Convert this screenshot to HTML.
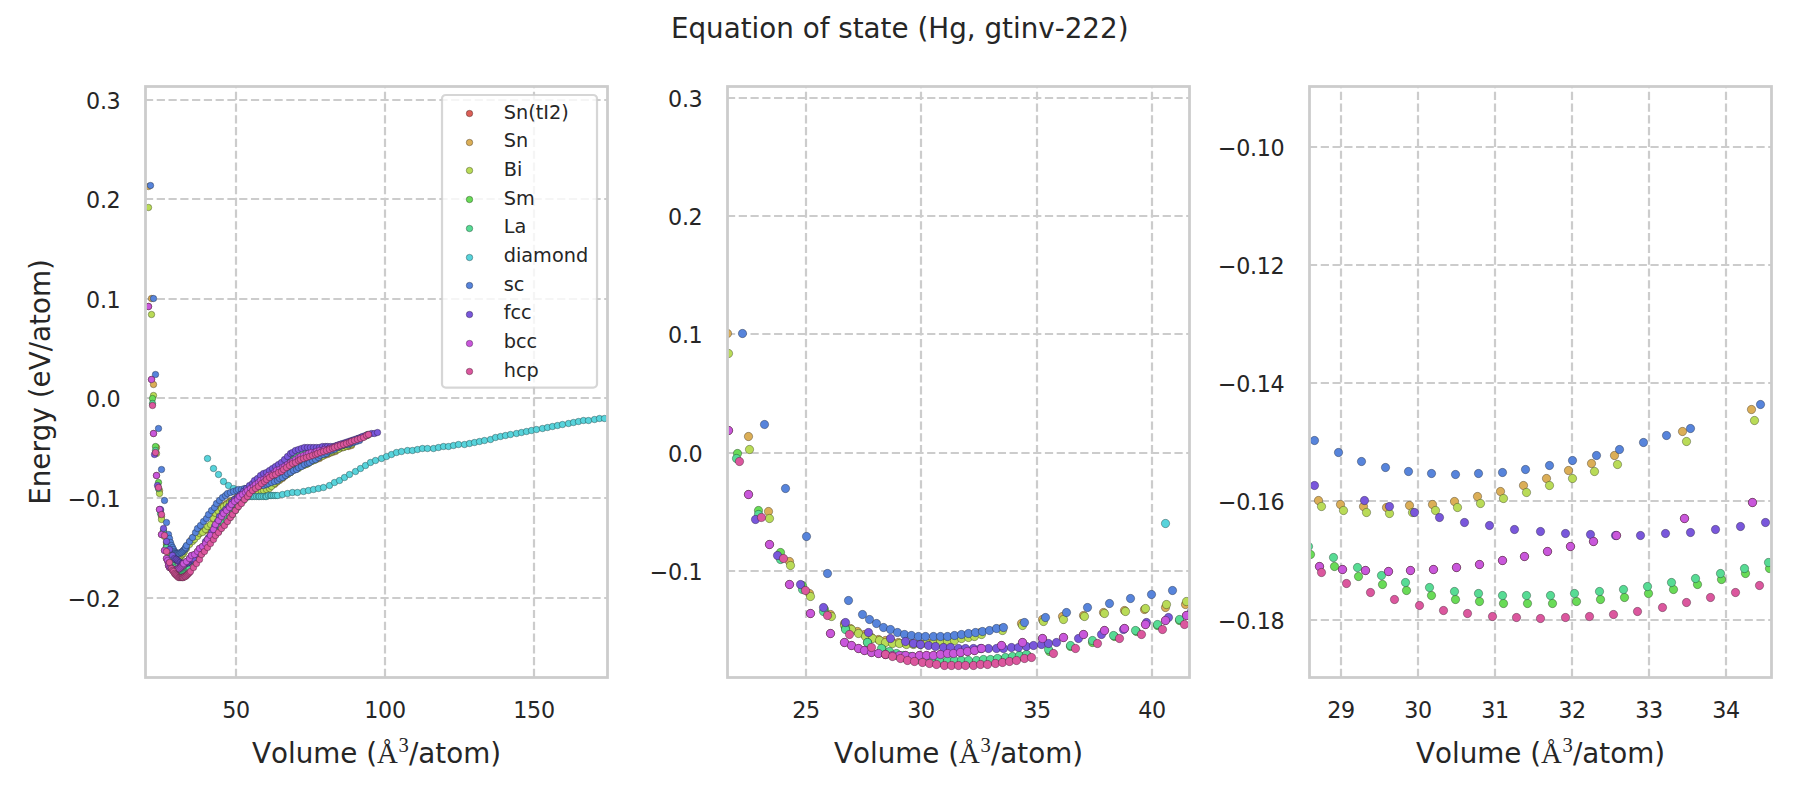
<!DOCTYPE html>
<html lang="en"><head><meta charset="utf-8"><title>Equation of state (Hg, gtinv-222)</title>
<style>html,body{margin:0;padding:0;background:#fff}svg{display:block}text{font-family:"DejaVu Sans","Liberation Sans",sans-serif;fill:#262626;font-kerning:none}.tk{font-size:22.22px;letter-spacing:-0.35px}.lb{font-size:27.78px}.lg{font-size:19.30px}.m{font-family:"Liberation Serif","DejaVu Serif",serif}.g{stroke:#ccc;stroke-width:2.22;stroke-dasharray:8.22 3.556;fill:none}.sp{stroke:#ccc;stroke-width:2.78;fill:none;stroke-linejoin:miter}.pt circle{stroke:#000;stroke-opacity:0.55;stroke-width:0.56}</style></head><body>
<svg width="1800" height="800" viewBox="0 0 1800 800">
<rect width="1800" height="800" fill="#fff"/>
<defs>
<clipPath id="c0"><rect x="145.5" y="86.5" width="462.0" height="591.0"/></clipPath>
<clipPath id="c1"><rect x="727.5" y="86.5" width="462.0" height="591.0"/></clipPath>
<clipPath id="c2"><rect x="1309.5" y="86.5" width="462.0" height="591.0"/></clipPath>
</defs>
<g id="ax1">
<g class="g" clip-path="url(#c0)">
<path d="M236 677.0 V86.5"/>
<path d="M385 677.0 V86.5"/>
<path d="M534 677.0 V86.5"/>
<path d="M144.95 100 H607.5"/>
<path d="M144.95 199 H607.5"/>
<path d="M144.95 299 H607.5"/>
<path d="M144.95 398 H607.5"/>
<path d="M144.95 498 H607.5"/>
<path d="M144.95 598 H607.5"/>
</g>
<g class="pt" clip-path="url(#c0)">
<g fill="#db5f57"><circle cx="148.5" cy="306.5" r="3.25"/><circle cx="151.5" cy="379.5" r="3.25"/><circle cx="153.5" cy="433.5" r="3.25"/><circle cx="156.5" cy="475.5" r="3.25"/><circle cx="159.5" cy="509.5" r="3.25"/><circle cx="161.5" cy="534.5" r="3.25"/><circle cx="164.5" cy="550.5" r="3.25"/><circle cx="166.5" cy="558.5" r="3.25"/><circle cx="167.5" cy="560.5" r="3.25"/><circle cx="168.5" cy="563.5" r="3.25"/><circle cx="168.5" cy="565.5" r="3.25"/><circle cx="169.5" cy="567.5" r="3.25"/><circle cx="170.5" cy="567.5" r="3.25"/><circle cx="171.5" cy="568.5" r="3.25"/><circle cx="172.5" cy="569.5" r="3.25"/><circle cx="173.5" cy="569.5" r="3.25"/><circle cx="174.5" cy="569.5" r="3.25"/><circle cx="175.5" cy="569.5" r="3.25"/><circle cx="176.5" cy="569.5" r="3.25"/><circle cx="176.5" cy="569.5" r="3.25"/><circle cx="177.5" cy="569.5" r="3.25"/><circle cx="178.5" cy="568.5" r="3.25"/><circle cx="179.5" cy="568.5" r="3.25"/><circle cx="180.5" cy="567.5" r="3.25"/><circle cx="181.5" cy="566.5" r="3.25"/><circle cx="182.5" cy="565.5" r="3.25"/><circle cx="183.5" cy="564.5" r="3.25"/><circle cx="183.5" cy="563.5" r="3.25"/><circle cx="186.5" cy="561.5" r="3.25"/><circle cx="189.5" cy="558.5" r="3.25"/><circle cx="191.5" cy="555.5" r="3.25"/><circle cx="194.5" cy="554.5" r="3.25"/><circle cx="197.5" cy="551.5" r="3.25"/><circle cx="199.5" cy="548.5" r="3.25"/><circle cx="202.5" cy="546.5" r="3.25"/><circle cx="205.5" cy="543.5" r="3.25"/><circle cx="207.5" cy="539.5" r="3.25"/><circle cx="210.5" cy="535.5" r="3.25"/><circle cx="213.5" cy="529.5" r="3.25"/><circle cx="215.5" cy="524.5" r="3.25"/><circle cx="218.5" cy="520.5" r="3.25"/><circle cx="221.5" cy="516.5" r="3.25"/><circle cx="223.5" cy="513.5" r="3.25"/><circle cx="226.5" cy="510.5" r="3.25"/><circle cx="229.5" cy="507.5" r="3.25"/><circle cx="231.5" cy="504.5" r="3.25"/><circle cx="234.5" cy="501.5" r="3.25"/><circle cx="237.5" cy="499.5" r="3.25"/><circle cx="239.5" cy="496.5" r="3.25"/><circle cx="242.5" cy="494.5" r="3.25"/><circle cx="245.5" cy="492.5" r="3.25"/><circle cx="247.5" cy="490.5" r="3.25"/><circle cx="250.5" cy="488.5" r="3.25"/><circle cx="253.5" cy="486.5" r="3.25"/><circle cx="255.5" cy="484.5" r="3.25"/><circle cx="258.5" cy="482.5" r="3.25"/><circle cx="260.5" cy="480.5" r="3.25"/><circle cx="263.5" cy="479.5" r="3.25"/><circle cx="266.5" cy="477.5" r="3.25"/><circle cx="268.5" cy="475.5" r="3.25"/><circle cx="271.5" cy="474.5" r="3.25"/><circle cx="274.5" cy="472.5" r="3.25"/><circle cx="276.5" cy="470.5" r="3.25"/><circle cx="279.5" cy="469.5" r="3.25"/><circle cx="282.5" cy="467.5" r="3.25"/><circle cx="284.5" cy="466.5" r="3.25"/><circle cx="287.5" cy="464.5" r="3.25"/><circle cx="290.5" cy="462.5" r="3.25"/><circle cx="292.5" cy="461.5" r="3.25"/><circle cx="295.5" cy="459.5" r="3.25"/><circle cx="298.5" cy="457.5" r="3.25"/><circle cx="300.5" cy="456.5" r="3.25"/><circle cx="303.5" cy="455.5" r="3.25"/><circle cx="306.5" cy="454.5" r="3.25"/><circle cx="308.5" cy="453.5" r="3.25"/><circle cx="311.5" cy="452.5" r="3.25"/><circle cx="314.5" cy="452.5" r="3.25"/><circle cx="316.5" cy="451.5" r="3.25"/><circle cx="319.5" cy="450.5" r="3.25"/><circle cx="322.5" cy="450.5" r="3.25"/><circle cx="324.5" cy="449.5" r="3.25"/><circle cx="327.5" cy="449.5" r="3.25"/><circle cx="329.5" cy="448.5" r="3.25"/><circle cx="332.5" cy="447.5" r="3.25"/><circle cx="335.5" cy="446.5" r="3.25"/><circle cx="337.5" cy="445.5" r="3.25"/><circle cx="340.5" cy="444.5" r="3.25"/><circle cx="343.5" cy="444.5" r="3.25"/><circle cx="345.5" cy="443.5" r="3.25"/><circle cx="348.5" cy="442.5" r="3.25"/><circle cx="351.5" cy="441.5" r="3.25"/></g>
<g fill="#dbae57"><circle cx="148.5" cy="186.5" r="3.25"/><circle cx="151.5" cy="298.5" r="3.25"/><circle cx="153.5" cy="384.5" r="3.25"/><circle cx="156.5" cy="447.5" r="3.25"/><circle cx="159.5" cy="490.5" r="3.25"/><circle cx="161.5" cy="516.5" r="3.25"/><circle cx="164.5" cy="534.5" r="3.25"/><circle cx="166.5" cy="542.5" r="3.25"/><circle cx="167.5" cy="546.5" r="3.25"/><circle cx="168.5" cy="549.5" r="3.25"/><circle cx="168.5" cy="552.5" r="3.25"/><circle cx="169.5" cy="554.5" r="3.25"/><circle cx="170.5" cy="555.5" r="3.25"/><circle cx="171.5" cy="557.5" r="3.25"/><circle cx="172.5" cy="558.5" r="3.25"/><circle cx="173.5" cy="558.5" r="3.25"/><circle cx="174.5" cy="559.5" r="3.25"/><circle cx="175.5" cy="559.5" r="3.25"/><circle cx="175.5" cy="558.5" r="3.25"/><circle cx="176.5" cy="558.5" r="3.25"/><circle cx="177.5" cy="558.5" r="3.25"/><circle cx="178.5" cy="557.5" r="3.25"/><circle cx="179.5" cy="556.5" r="3.25"/><circle cx="180.5" cy="555.5" r="3.25"/><circle cx="181.5" cy="554.5" r="3.25"/><circle cx="182.5" cy="552.5" r="3.25"/><circle cx="183.5" cy="551.5" r="3.25"/><circle cx="183.5" cy="550.5" r="3.25"/><circle cx="186.5" cy="546.5" r="3.25"/><circle cx="189.5" cy="542.5" r="3.25"/><circle cx="191.5" cy="539.5" r="3.25"/><circle cx="194.5" cy="536.5" r="3.25"/><circle cx="197.5" cy="535.5" r="3.25"/><circle cx="199.5" cy="533.5" r="3.25"/><circle cx="202.5" cy="531.5" r="3.25"/><circle cx="205.5" cy="530.5" r="3.25"/><circle cx="207.5" cy="529.5" r="3.25"/><circle cx="210.5" cy="526.5" r="3.25"/><circle cx="213.5" cy="521.5" r="3.25"/><circle cx="215.5" cy="514.5" r="3.25"/><circle cx="218.5" cy="510.5" r="3.25"/><circle cx="221.5" cy="507.5" r="3.25"/><circle cx="223.5" cy="505.5" r="3.25"/><circle cx="226.5" cy="503.5" r="3.25"/><circle cx="229.5" cy="501.5" r="3.25"/><circle cx="231.5" cy="500.5" r="3.25"/><circle cx="234.5" cy="499.5" r="3.25"/><circle cx="236.5" cy="497.5" r="3.25"/><circle cx="239.5" cy="496.5" r="3.25"/><circle cx="242.5" cy="495.5" r="3.25"/><circle cx="244.5" cy="495.5" r="3.25"/><circle cx="247.5" cy="494.5" r="3.25"/><circle cx="250.5" cy="493.5" r="3.25"/><circle cx="252.5" cy="493.5" r="3.25"/><circle cx="255.5" cy="492.5" r="3.25"/><circle cx="258.5" cy="491.5" r="3.25"/><circle cx="260.5" cy="490.5" r="3.25"/><circle cx="263.5" cy="489.5" r="3.25"/><circle cx="266.5" cy="488.5" r="3.25"/><circle cx="268.5" cy="487.5" r="3.25"/><circle cx="271.5" cy="485.5" r="3.25"/><circle cx="274.5" cy="484.5" r="3.25"/><circle cx="276.5" cy="482.5" r="3.25"/><circle cx="279.5" cy="480.5" r="3.25"/><circle cx="282.5" cy="478.5" r="3.25"/><circle cx="284.5" cy="476.5" r="3.25"/><circle cx="287.5" cy="474.5" r="3.25"/><circle cx="290.5" cy="472.5" r="3.25"/><circle cx="292.5" cy="470.5" r="3.25"/><circle cx="295.5" cy="469.5" r="3.25"/><circle cx="297.5" cy="467.5" r="3.25"/><circle cx="300.5" cy="466.5" r="3.25"/><circle cx="303.5" cy="465.5" r="3.25"/><circle cx="305.5" cy="464.5" r="3.25"/><circle cx="308.5" cy="462.5" r="3.25"/><circle cx="311.5" cy="461.5" r="3.25"/><circle cx="313.5" cy="460.5" r="3.25"/><circle cx="316.5" cy="459.5" r="3.25"/><circle cx="319.5" cy="458.5" r="3.25"/><circle cx="321.5" cy="456.5" r="3.25"/><circle cx="324.5" cy="455.5" r="3.25"/><circle cx="327.5" cy="454.5" r="3.25"/><circle cx="329.5" cy="453.5" r="3.25"/><circle cx="332.5" cy="452.5" r="3.25"/><circle cx="335.5" cy="451.5" r="3.25"/><circle cx="337.5" cy="449.5" r="3.25"/><circle cx="340.5" cy="448.5" r="3.25"/><circle cx="343.5" cy="447.5" r="3.25"/><circle cx="345.5" cy="446.5" r="3.25"/><circle cx="348.5" cy="446.5" r="3.25"/><circle cx="351.5" cy="445.5" r="3.25"/></g>
<g fill="#b9db57"><circle cx="148.5" cy="207.5" r="3.25"/><circle cx="151.5" cy="314.5" r="3.25"/><circle cx="153.5" cy="395.5" r="3.25"/><circle cx="156.5" cy="453.5" r="3.25"/><circle cx="159.5" cy="493.5" r="3.25"/><circle cx="161.5" cy="519.5" r="3.25"/><circle cx="164.5" cy="536.5" r="3.25"/><circle cx="166.5" cy="544.5" r="3.25"/><circle cx="167.5" cy="547.5" r="3.25"/><circle cx="168.5" cy="550.5" r="3.25"/><circle cx="169.5" cy="553.5" r="3.25"/><circle cx="169.5" cy="555.5" r="3.25"/><circle cx="170.5" cy="556.5" r="3.25"/><circle cx="171.5" cy="558.5" r="3.25"/><circle cx="172.5" cy="559.5" r="3.25"/><circle cx="173.5" cy="559.5" r="3.25"/><circle cx="174.5" cy="559.5" r="3.25"/><circle cx="175.5" cy="560.5" r="3.25"/><circle cx="176.5" cy="559.5" r="3.25"/><circle cx="176.5" cy="559.5" r="3.25"/><circle cx="177.5" cy="559.5" r="3.25"/><circle cx="178.5" cy="558.5" r="3.25"/><circle cx="179.5" cy="557.5" r="3.25"/><circle cx="180.5" cy="556.5" r="3.25"/><circle cx="181.5" cy="555.5" r="3.25"/><circle cx="182.5" cy="554.5" r="3.25"/><circle cx="183.5" cy="553.5" r="3.25"/><circle cx="184.5" cy="551.5" r="3.25"/><circle cx="186.5" cy="548.5" r="3.25"/><circle cx="189.5" cy="544.5" r="3.25"/><circle cx="192.5" cy="541.5" r="3.25"/><circle cx="194.5" cy="539.5" r="3.25"/><circle cx="197.5" cy="536.5" r="3.25"/><circle cx="199.5" cy="533.5" r="3.25"/><circle cx="202.5" cy="532.5" r="3.25"/><circle cx="205.5" cy="529.5" r="3.25"/><circle cx="207.5" cy="526.5" r="3.25"/><circle cx="210.5" cy="524.5" r="3.25"/><circle cx="213.5" cy="518.5" r="3.25"/><circle cx="215.5" cy="513.5" r="3.25"/><circle cx="218.5" cy="511.5" r="3.25"/><circle cx="221.5" cy="508.5" r="3.25"/><circle cx="223.5" cy="506.5" r="3.25"/><circle cx="226.5" cy="504.5" r="3.25"/><circle cx="229.5" cy="502.5" r="3.25"/><circle cx="231.5" cy="501.5" r="3.25"/><circle cx="234.5" cy="499.5" r="3.25"/><circle cx="237.5" cy="498.5" r="3.25"/><circle cx="239.5" cy="498.5" r="3.25"/><circle cx="242.5" cy="497.5" r="3.25"/><circle cx="245.5" cy="496.5" r="3.25"/><circle cx="247.5" cy="495.5" r="3.25"/><circle cx="250.5" cy="495.5" r="3.25"/><circle cx="253.5" cy="494.5" r="3.25"/><circle cx="255.5" cy="493.5" r="3.25"/><circle cx="258.5" cy="492.5" r="3.25"/><circle cx="261.5" cy="491.5" r="3.25"/><circle cx="263.5" cy="490.5" r="3.25"/><circle cx="266.5" cy="489.5" r="3.25"/><circle cx="269.5" cy="488.5" r="3.25"/><circle cx="271.5" cy="486.5" r="3.25"/><circle cx="274.5" cy="483.5" r="3.25"/><circle cx="277.5" cy="481.5" r="3.25"/><circle cx="279.5" cy="479.5" r="3.25"/><circle cx="282.5" cy="477.5" r="3.25"/><circle cx="284.5" cy="475.5" r="3.25"/><circle cx="287.5" cy="474.5" r="3.25"/><circle cx="290.5" cy="472.5" r="3.25"/><circle cx="292.5" cy="470.5" r="3.25"/><circle cx="295.5" cy="469.5" r="3.25"/><circle cx="298.5" cy="468.5" r="3.25"/><circle cx="300.5" cy="466.5" r="3.25"/><circle cx="303.5" cy="465.5" r="3.25"/><circle cx="306.5" cy="464.5" r="3.25"/><circle cx="308.5" cy="463.5" r="3.25"/><circle cx="311.5" cy="461.5" r="3.25"/><circle cx="314.5" cy="460.5" r="3.25"/><circle cx="316.5" cy="458.5" r="3.25"/><circle cx="319.5" cy="457.5" r="3.25"/><circle cx="322.5" cy="456.5" r="3.25"/><circle cx="324.5" cy="454.5" r="3.25"/><circle cx="327.5" cy="453.5" r="3.25"/><circle cx="330.5" cy="452.5" r="3.25"/><circle cx="332.5" cy="451.5" r="3.25"/><circle cx="335.5" cy="450.5" r="3.25"/><circle cx="338.5" cy="449.5" r="3.25"/><circle cx="340.5" cy="447.5" r="3.25"/><circle cx="343.5" cy="447.5" r="3.25"/><circle cx="346.5" cy="446.5" r="3.25"/><circle cx="348.5" cy="445.5" r="3.25"/><circle cx="351.5" cy="444.5" r="3.25"/></g>
<g fill="#69db57"><circle cx="152.5" cy="398.5" r="3.25"/><circle cx="155.5" cy="446.5" r="3.25"/><circle cx="158.5" cy="482.5" r="3.25"/><circle cx="160.5" cy="510.5" r="3.25"/><circle cx="163.5" cy="530.5" r="3.25"/><circle cx="166.5" cy="546.5" r="3.25"/><circle cx="169.5" cy="558.5" r="3.25"/><circle cx="171.5" cy="564.5" r="3.25"/><circle cx="172.5" cy="567.5" r="3.25"/><circle cx="173.5" cy="569.5" r="3.25"/><circle cx="174.5" cy="570.5" r="3.25"/><circle cx="174.5" cy="572.5" r="3.25"/><circle cx="175.5" cy="573.5" r="3.25"/><circle cx="176.5" cy="573.5" r="3.25"/><circle cx="177.5" cy="574.5" r="3.25"/><circle cx="178.5" cy="575.5" r="3.25"/><circle cx="179.5" cy="575.5" r="3.25"/><circle cx="180.5" cy="575.5" r="3.25"/><circle cx="181.5" cy="575.5" r="3.25"/><circle cx="182.5" cy="575.5" r="3.25"/><circle cx="183.5" cy="574.5" r="3.25"/><circle cx="184.5" cy="574.5" r="3.25"/><circle cx="185.5" cy="573.5" r="3.25"/><circle cx="186.5" cy="572.5" r="3.25"/><circle cx="187.5" cy="572.5" r="3.25"/><circle cx="188.5" cy="571.5" r="3.25"/><circle cx="189.5" cy="570.5" r="3.25"/><circle cx="189.5" cy="569.5" r="3.25"/><circle cx="192.5" cy="565.5" r="3.25"/><circle cx="195.5" cy="562.5" r="3.25"/><circle cx="198.5" cy="558.5" r="3.25"/><circle cx="201.5" cy="553.5" r="3.25"/><circle cx="204.5" cy="549.5" r="3.25"/><circle cx="206.5" cy="544.5" r="3.25"/><circle cx="209.5" cy="540.5" r="3.25"/><circle cx="212.5" cy="536.5" r="3.25"/><circle cx="215.5" cy="534.5" r="3.25"/><circle cx="218.5" cy="531.5" r="3.25"/><circle cx="220.5" cy="528.5" r="3.25"/><circle cx="223.5" cy="524.5" r="3.25"/><circle cx="226.5" cy="521.5" r="3.25"/><circle cx="229.5" cy="517.5" r="3.25"/><circle cx="232.5" cy="514.5" r="3.25"/><circle cx="235.5" cy="510.5" r="3.25"/><circle cx="237.5" cy="507.5" r="3.25"/><circle cx="240.5" cy="503.5" r="3.25"/><circle cx="243.5" cy="500.5" r="3.25"/><circle cx="246.5" cy="497.5" r="3.25"/><circle cx="249.5" cy="493.5" r="3.25"/><circle cx="251.5" cy="491.5" r="3.25"/><circle cx="254.5" cy="488.5" r="3.25"/><circle cx="257.5" cy="485.5" r="3.25"/><circle cx="260.5" cy="483.5" r="3.25"/><circle cx="263.5" cy="481.5" r="3.25"/><circle cx="266.5" cy="479.5" r="3.25"/><circle cx="268.5" cy="477.5" r="3.25"/><circle cx="271.5" cy="476.5" r="3.25"/><circle cx="274.5" cy="474.5" r="3.25"/><circle cx="277.5" cy="472.5" r="3.25"/><circle cx="280.5" cy="470.5" r="3.25"/><circle cx="282.5" cy="467.5" r="3.25"/><circle cx="285.5" cy="465.5" r="3.25"/><circle cx="288.5" cy="462.5" r="3.25"/><circle cx="291.5" cy="460.5" r="3.25"/><circle cx="294.5" cy="458.5" r="3.25"/><circle cx="297.5" cy="456.5" r="3.25"/><circle cx="299.5" cy="455.5" r="3.25"/><circle cx="302.5" cy="454.5" r="3.25"/><circle cx="305.5" cy="454.5" r="3.25"/><circle cx="308.5" cy="454.5" r="3.25"/><circle cx="311.5" cy="454.5" r="3.25"/><circle cx="313.5" cy="454.5" r="3.25"/><circle cx="316.5" cy="453.5" r="3.25"/><circle cx="319.5" cy="452.5" r="3.25"/><circle cx="322.5" cy="451.5" r="3.25"/><circle cx="325.5" cy="450.5" r="3.25"/><circle cx="328.5" cy="449.5" r="3.25"/><circle cx="330.5" cy="449.5" r="3.25"/><circle cx="333.5" cy="448.5" r="3.25"/><circle cx="336.5" cy="447.5" r="3.25"/><circle cx="339.5" cy="446.5" r="3.25"/><circle cx="342.5" cy="445.5" r="3.25"/><circle cx="344.5" cy="444.5" r="3.25"/><circle cx="347.5" cy="443.5" r="3.25"/><circle cx="350.5" cy="442.5" r="3.25"/><circle cx="353.5" cy="441.5" r="3.25"/><circle cx="356.5" cy="440.5" r="3.25"/><circle cx="358.5" cy="438.5" r="3.25"/><circle cx="361.5" cy="437.5" r="3.25"/><circle cx="364.5" cy="436.5" r="3.25"/><circle cx="367.5" cy="435.5" r="3.25"/></g>
<g fill="#57db94"><circle cx="152.5" cy="403.5" r="3.25"/><circle cx="155.5" cy="450.5" r="3.25"/><circle cx="158.5" cy="488.5" r="3.25"/><circle cx="160.5" cy="513.5" r="3.25"/><circle cx="163.5" cy="532.5" r="3.25"/><circle cx="166.5" cy="547.5" r="3.25"/><circle cx="169.5" cy="558.5" r="3.25"/><circle cx="171.5" cy="563.5" r="3.25"/><circle cx="172.5" cy="565.5" r="3.25"/><circle cx="173.5" cy="567.5" r="3.25"/><circle cx="173.5" cy="569.5" r="3.25"/><circle cx="174.5" cy="570.5" r="3.25"/><circle cx="175.5" cy="571.5" r="3.25"/><circle cx="176.5" cy="572.5" r="3.25"/><circle cx="177.5" cy="573.5" r="3.25"/><circle cx="178.5" cy="573.5" r="3.25"/><circle cx="179.5" cy="573.5" r="3.25"/><circle cx="180.5" cy="573.5" r="3.25"/><circle cx="181.5" cy="573.5" r="3.25"/><circle cx="182.5" cy="573.5" r="3.25"/><circle cx="183.5" cy="573.5" r="3.25"/><circle cx="184.5" cy="572.5" r="3.25"/><circle cx="185.5" cy="572.5" r="3.25"/><circle cx="186.5" cy="571.5" r="3.25"/><circle cx="187.5" cy="571.5" r="3.25"/><circle cx="188.5" cy="570.5" r="3.25"/><circle cx="188.5" cy="569.5" r="3.25"/><circle cx="189.5" cy="568.5" r="3.25"/><circle cx="192.5" cy="564.5" r="3.25"/><circle cx="195.5" cy="561.5" r="3.25"/><circle cx="198.5" cy="557.5" r="3.25"/><circle cx="201.5" cy="552.5" r="3.25"/><circle cx="203.5" cy="548.5" r="3.25"/><circle cx="206.5" cy="543.5" r="3.25"/><circle cx="209.5" cy="539.5" r="3.25"/><circle cx="212.5" cy="535.5" r="3.25"/><circle cx="215.5" cy="533.5" r="3.25"/><circle cx="218.5" cy="530.5" r="3.25"/><circle cx="220.5" cy="527.5" r="3.25"/><circle cx="223.5" cy="523.5" r="3.25"/><circle cx="226.5" cy="520.5" r="3.25"/><circle cx="229.5" cy="517.5" r="3.25"/><circle cx="232.5" cy="513.5" r="3.25"/><circle cx="234.5" cy="510.5" r="3.25"/><circle cx="237.5" cy="506.5" r="3.25"/><circle cx="240.5" cy="502.5" r="3.25"/><circle cx="243.5" cy="499.5" r="3.25"/><circle cx="246.5" cy="496.5" r="3.25"/><circle cx="249.5" cy="493.5" r="3.25"/><circle cx="251.5" cy="490.5" r="3.25"/><circle cx="254.5" cy="487.5" r="3.25"/><circle cx="257.5" cy="485.5" r="3.25"/><circle cx="260.5" cy="482.5" r="3.25"/><circle cx="263.5" cy="480.5" r="3.25"/><circle cx="265.5" cy="478.5" r="3.25"/><circle cx="268.5" cy="477.5" r="3.25"/><circle cx="271.5" cy="475.5" r="3.25"/><circle cx="274.5" cy="473.5" r="3.25"/><circle cx="277.5" cy="471.5" r="3.25"/><circle cx="280.5" cy="469.5" r="3.25"/><circle cx="282.5" cy="467.5" r="3.25"/><circle cx="285.5" cy="464.5" r="3.25"/><circle cx="288.5" cy="462.5" r="3.25"/><circle cx="291.5" cy="460.5" r="3.25"/><circle cx="294.5" cy="458.5" r="3.25"/><circle cx="296.5" cy="456.5" r="3.25"/><circle cx="299.5" cy="454.5" r="3.25"/><circle cx="302.5" cy="453.5" r="3.25"/><circle cx="305.5" cy="453.5" r="3.25"/><circle cx="308.5" cy="453.5" r="3.25"/><circle cx="310.5" cy="453.5" r="3.25"/><circle cx="313.5" cy="453.5" r="3.25"/><circle cx="316.5" cy="453.5" r="3.25"/><circle cx="319.5" cy="452.5" r="3.25"/><circle cx="322.5" cy="451.5" r="3.25"/><circle cx="325.5" cy="450.5" r="3.25"/><circle cx="327.5" cy="449.5" r="3.25"/><circle cx="330.5" cy="448.5" r="3.25"/><circle cx="333.5" cy="447.5" r="3.25"/><circle cx="336.5" cy="446.5" r="3.25"/><circle cx="339.5" cy="445.5" r="3.25"/><circle cx="341.5" cy="444.5" r="3.25"/><circle cx="344.5" cy="443.5" r="3.25"/><circle cx="347.5" cy="443.5" r="3.25"/><circle cx="350.5" cy="441.5" r="3.25"/><circle cx="353.5" cy="440.5" r="3.25"/><circle cx="356.5" cy="439.5" r="3.25"/><circle cx="358.5" cy="438.5" r="3.25"/><circle cx="361.5" cy="437.5" r="3.25"/><circle cx="364.5" cy="436.5" r="3.25"/><circle cx="367.5" cy="434.5" r="3.25"/></g>
<g fill="#57d3db"><circle cx="207.5" cy="458.5" r="3.25"/><circle cx="213.5" cy="468.5" r="3.25"/><circle cx="218.5" cy="474.5" r="3.25"/><circle cx="223.5" cy="481.5" r="3.25"/><circle cx="228.5" cy="485.5" r="3.25"/><circle cx="233.5" cy="488.5" r="3.25"/><circle cx="239.5" cy="492.5" r="3.25"/><circle cx="242.5" cy="493.5" r="3.25"/><circle cx="244.5" cy="494.5" r="3.25"/><circle cx="245.5" cy="495.5" r="3.25"/><circle cx="247.5" cy="495.5" r="3.25"/><circle cx="249.5" cy="496.5" r="3.25"/><circle cx="251.5" cy="496.5" r="3.25"/><circle cx="252.5" cy="496.5" r="3.25"/><circle cx="254.5" cy="496.5" r="3.25"/><circle cx="256.5" cy="496.5" r="3.25"/><circle cx="258.5" cy="496.5" r="3.25"/><circle cx="259.5" cy="496.5" r="3.25"/><circle cx="261.5" cy="496.5" r="3.25"/><circle cx="263.5" cy="496.5" r="3.25"/><circle cx="265.5" cy="496.5" r="3.25"/><circle cx="266.5" cy="496.5" r="3.25"/><circle cx="268.5" cy="495.5" r="3.25"/><circle cx="270.5" cy="495.5" r="3.25"/><circle cx="271.5" cy="495.5" r="3.25"/><circle cx="273.5" cy="495.5" r="3.25"/><circle cx="275.5" cy="495.5" r="3.25"/><circle cx="277.5" cy="495.5" r="3.25"/><circle cx="282.5" cy="494.5" r="3.25"/><circle cx="287.5" cy="493.5" r="3.25"/><circle cx="292.5" cy="492.5" r="3.25"/><circle cx="297.5" cy="492.5" r="3.25"/><circle cx="303.5" cy="491.5" r="3.25"/><circle cx="308.5" cy="490.5" r="3.25"/><circle cx="313.5" cy="489.5" r="3.25"/><circle cx="318.5" cy="488.5" r="3.25"/><circle cx="323.5" cy="487.5" r="3.25"/><circle cx="329.5" cy="485.5" r="3.25"/><circle cx="334.5" cy="482.5" r="3.25"/><circle cx="339.5" cy="480.5" r="3.25"/><circle cx="344.5" cy="477.5" r="3.25"/><circle cx="349.5" cy="474.5" r="3.25"/><circle cx="355.5" cy="471.5" r="3.25"/><circle cx="360.5" cy="468.5" r="3.25"/><circle cx="365.5" cy="465.5" r="3.25"/><circle cx="370.5" cy="462.5" r="3.25"/><circle cx="375.5" cy="460.5" r="3.25"/><circle cx="381.5" cy="458.5" r="3.25"/><circle cx="386.5" cy="456.5" r="3.25"/><circle cx="391.5" cy="454.5" r="3.25"/><circle cx="396.5" cy="452.5" r="3.25"/><circle cx="401.5" cy="451.5" r="3.25"/><circle cx="407.5" cy="450.5" r="3.25"/><circle cx="412.5" cy="450.5" r="3.25"/><circle cx="417.5" cy="449.5" r="3.25"/><circle cx="422.5" cy="448.5" r="3.25"/><circle cx="427.5" cy="448.5" r="3.25"/><circle cx="433.5" cy="448.5" r="3.25"/><circle cx="438.5" cy="447.5" r="3.25"/><circle cx="443.5" cy="446.5" r="3.25"/><circle cx="448.5" cy="446.5" r="3.25"/><circle cx="453.5" cy="445.5" r="3.25"/><circle cx="458.5" cy="444.5" r="3.25"/><circle cx="464.5" cy="444.5" r="3.25"/><circle cx="469.5" cy="443.5" r="3.25"/><circle cx="474.5" cy="442.5" r="3.25"/><circle cx="479.5" cy="441.5" r="3.25"/><circle cx="484.5" cy="440.5" r="3.25"/><circle cx="490.5" cy="439.5" r="3.25"/><circle cx="495.5" cy="437.5" r="3.25"/><circle cx="500.5" cy="436.5" r="3.25"/><circle cx="505.5" cy="435.5" r="3.25"/><circle cx="510.5" cy="434.5" r="3.25"/><circle cx="516.5" cy="433.5" r="3.25"/><circle cx="521.5" cy="432.5" r="3.25"/><circle cx="526.5" cy="431.5" r="3.25"/><circle cx="531.5" cy="430.5" r="3.25"/><circle cx="536.5" cy="429.5" r="3.25"/><circle cx="542.5" cy="428.5" r="3.25"/><circle cx="547.5" cy="427.5" r="3.25"/><circle cx="552.5" cy="426.5" r="3.25"/><circle cx="557.5" cy="425.5" r="3.25"/><circle cx="562.5" cy="424.5" r="3.25"/><circle cx="568.5" cy="423.5" r="3.25"/><circle cx="573.5" cy="422.5" r="3.25"/><circle cx="578.5" cy="421.5" r="3.25"/><circle cx="583.5" cy="420.5" r="3.25"/><circle cx="588.5" cy="420.5" r="3.25"/><circle cx="594.5" cy="419.5" r="3.25"/><circle cx="599.5" cy="418.5" r="3.25"/><circle cx="604.5" cy="418.5" r="3.25"/></g>
<g fill="#5784db"><circle cx="150.5" cy="185.5" r="3.25"/><circle cx="153.5" cy="298.5" r="3.25"/><circle cx="155.5" cy="374.5" r="3.25"/><circle cx="158.5" cy="428.5" r="3.25"/><circle cx="161.5" cy="469.5" r="3.25"/><circle cx="164.5" cy="500.5" r="3.25"/><circle cx="166.5" cy="522.5" r="3.25"/><circle cx="168.5" cy="534.5" r="3.25"/><circle cx="169.5" cy="538.5" r="3.25"/><circle cx="170.5" cy="542.5" r="3.25"/><circle cx="171.5" cy="545.5" r="3.25"/><circle cx="172.5" cy="547.5" r="3.25"/><circle cx="173.5" cy="549.5" r="3.25"/><circle cx="174.5" cy="551.5" r="3.25"/><circle cx="175.5" cy="552.5" r="3.25"/><circle cx="175.5" cy="553.5" r="3.25"/><circle cx="176.5" cy="553.5" r="3.25"/><circle cx="177.5" cy="553.5" r="3.25"/><circle cx="178.5" cy="553.5" r="3.25"/><circle cx="179.5" cy="553.5" r="3.25"/><circle cx="180.5" cy="552.5" r="3.25"/><circle cx="181.5" cy="552.5" r="3.25"/><circle cx="182.5" cy="551.5" r="3.25"/><circle cx="183.5" cy="550.5" r="3.25"/><circle cx="184.5" cy="549.5" r="3.25"/><circle cx="185.5" cy="548.5" r="3.25"/><circle cx="185.5" cy="547.5" r="3.25"/><circle cx="186.5" cy="545.5" r="3.25"/><circle cx="189.5" cy="541.5" r="3.25"/><circle cx="192.5" cy="537.5" r="3.25"/><circle cx="195.5" cy="532.5" r="3.25"/><circle cx="197.5" cy="528.5" r="3.25"/><circle cx="200.5" cy="525.5" r="3.25"/><circle cx="203.5" cy="521.5" r="3.25"/><circle cx="206.5" cy="518.5" r="3.25"/><circle cx="208.5" cy="514.5" r="3.25"/><circle cx="211.5" cy="510.5" r="3.25"/><circle cx="214.5" cy="507.5" r="3.25"/><circle cx="216.5" cy="503.5" r="3.25"/><circle cx="219.5" cy="500.5" r="3.25"/><circle cx="222.5" cy="497.5" r="3.25"/><circle cx="225.5" cy="495.5" r="3.25"/><circle cx="227.5" cy="493.5" r="3.25"/><circle cx="230.5" cy="492.5" r="3.25"/><circle cx="233.5" cy="491.5" r="3.25"/><circle cx="236.5" cy="490.5" r="3.25"/><circle cx="238.5" cy="489.5" r="3.25"/><circle cx="241.5" cy="489.5" r="3.25"/><circle cx="244.5" cy="488.5" r="3.25"/><circle cx="246.5" cy="488.5" r="3.25"/><circle cx="249.5" cy="487.5" r="3.25"/><circle cx="252.5" cy="487.5" r="3.25"/><circle cx="255.5" cy="486.5" r="3.25"/><circle cx="257.5" cy="486.5" r="3.25"/><circle cx="260.5" cy="485.5" r="3.25"/><circle cx="263.5" cy="485.5" r="3.25"/><circle cx="266.5" cy="484.5" r="3.25"/><circle cx="268.5" cy="483.5" r="3.25"/><circle cx="271.5" cy="482.5" r="3.25"/><circle cx="274.5" cy="481.5" r="3.25"/><circle cx="277.5" cy="480.5" r="3.25"/><circle cx="279.5" cy="478.5" r="3.25"/><circle cx="282.5" cy="477.5" r="3.25"/><circle cx="285.5" cy="475.5" r="3.25"/><circle cx="287.5" cy="473.5" r="3.25"/><circle cx="290.5" cy="472.5" r="3.25"/><circle cx="293.5" cy="470.5" r="3.25"/><circle cx="296.5" cy="469.5" r="3.25"/><circle cx="298.5" cy="467.5" r="3.25"/><circle cx="301.5" cy="466.5" r="3.25"/><circle cx="304.5" cy="464.5" r="3.25"/><circle cx="307.5" cy="463.5" r="3.25"/><circle cx="309.5" cy="462.5" r="3.25"/><circle cx="312.5" cy="460.5" r="3.25"/><circle cx="315.5" cy="459.5" r="3.25"/><circle cx="318.5" cy="457.5" r="3.25"/><circle cx="320.5" cy="455.5" r="3.25"/><circle cx="323.5" cy="454.5" r="3.25"/><circle cx="326.5" cy="453.5" r="3.25"/><circle cx="328.5" cy="451.5" r="3.25"/><circle cx="331.5" cy="450.5" r="3.25"/><circle cx="334.5" cy="449.5" r="3.25"/><circle cx="337.5" cy="447.5" r="3.25"/><circle cx="339.5" cy="446.5" r="3.25"/><circle cx="342.5" cy="445.5" r="3.25"/><circle cx="345.5" cy="444.5" r="3.25"/><circle cx="348.5" cy="444.5" r="3.25"/><circle cx="350.5" cy="443.5" r="3.25"/><circle cx="353.5" cy="442.5" r="3.25"/><circle cx="356.5" cy="441.5" r="3.25"/><circle cx="359.5" cy="440.5" r="3.25"/></g>
<g fill="#7957db"><circle cx="154.5" cy="454.5" r="3.25"/><circle cx="157.5" cy="485.5" r="3.25"/><circle cx="160.5" cy="509.5" r="3.25"/><circle cx="163.5" cy="528.5" r="3.25"/><circle cx="166.5" cy="541.5" r="3.25"/><circle cx="169.5" cy="549.5" r="3.25"/><circle cx="172.5" cy="555.5" r="3.25"/><circle cx="174.5" cy="558.5" r="3.25"/><circle cx="175.5" cy="559.5" r="3.25"/><circle cx="176.5" cy="559.5" r="3.25"/><circle cx="177.5" cy="560.5" r="3.25"/><circle cx="178.5" cy="561.5" r="3.25"/><circle cx="179.5" cy="562.5" r="3.25"/><circle cx="180.5" cy="562.5" r="3.25"/><circle cx="181.5" cy="563.5" r="3.25"/><circle cx="182.5" cy="563.5" r="3.25"/><circle cx="182.5" cy="563.5" r="3.25"/><circle cx="183.5" cy="563.5" r="3.25"/><circle cx="184.5" cy="563.5" r="3.25"/><circle cx="185.5" cy="563.5" r="3.25"/><circle cx="186.5" cy="563.5" r="3.25"/><circle cx="187.5" cy="562.5" r="3.25"/><circle cx="188.5" cy="562.5" r="3.25"/><circle cx="189.5" cy="561.5" r="3.25"/><circle cx="190.5" cy="560.5" r="3.25"/><circle cx="191.5" cy="559.5" r="3.25"/><circle cx="192.5" cy="559.5" r="3.25"/><circle cx="193.5" cy="558.5" r="3.25"/><circle cx="196.5" cy="554.5" r="3.25"/><circle cx="199.5" cy="551.5" r="3.25"/><circle cx="202.5" cy="547.5" r="3.25"/><circle cx="205.5" cy="541.5" r="3.25"/><circle cx="208.5" cy="537.5" r="3.25"/><circle cx="211.5" cy="532.5" r="3.25"/><circle cx="214.5" cy="526.5" r="3.25"/><circle cx="217.5" cy="521.5" r="3.25"/><circle cx="219.5" cy="516.5" r="3.25"/><circle cx="222.5" cy="512.5" r="3.25"/><circle cx="225.5" cy="509.5" r="3.25"/><circle cx="228.5" cy="506.5" r="3.25"/><circle cx="231.5" cy="502.5" r="3.25"/><circle cx="234.5" cy="499.5" r="3.25"/><circle cx="237.5" cy="497.5" r="3.25"/><circle cx="240.5" cy="494.5" r="3.25"/><circle cx="243.5" cy="491.5" r="3.25"/><circle cx="246.5" cy="488.5" r="3.25"/><circle cx="249.5" cy="485.5" r="3.25"/><circle cx="252.5" cy="483.5" r="3.25"/><circle cx="254.5" cy="480.5" r="3.25"/><circle cx="257.5" cy="478.5" r="3.25"/><circle cx="260.5" cy="475.5" r="3.25"/><circle cx="263.5" cy="473.5" r="3.25"/><circle cx="266.5" cy="472.5" r="3.25"/><circle cx="269.5" cy="470.5" r="3.25"/><circle cx="272.5" cy="468.5" r="3.25"/><circle cx="275.5" cy="466.5" r="3.25"/><circle cx="278.5" cy="464.5" r="3.25"/><circle cx="281.5" cy="462.5" r="3.25"/><circle cx="284.5" cy="459.5" r="3.25"/><circle cx="287.5" cy="456.5" r="3.25"/><circle cx="290.5" cy="453.5" r="3.25"/><circle cx="292.5" cy="452.5" r="3.25"/><circle cx="295.5" cy="450.5" r="3.25"/><circle cx="298.5" cy="449.5" r="3.25"/><circle cx="301.5" cy="448.5" r="3.25"/><circle cx="304.5" cy="447.5" r="3.25"/><circle cx="307.5" cy="447.5" r="3.25"/><circle cx="310.5" cy="447.5" r="3.25"/><circle cx="313.5" cy="447.5" r="3.25"/><circle cx="316.5" cy="447.5" r="3.25"/><circle cx="319.5" cy="447.5" r="3.25"/><circle cx="322.5" cy="446.5" r="3.25"/><circle cx="325.5" cy="446.5" r="3.25"/><circle cx="327.5" cy="446.5" r="3.25"/><circle cx="330.5" cy="446.5" r="3.25"/><circle cx="333.5" cy="446.5" r="3.25"/><circle cx="336.5" cy="445.5" r="3.25"/><circle cx="339.5" cy="444.5" r="3.25"/><circle cx="342.5" cy="443.5" r="3.25"/><circle cx="345.5" cy="442.5" r="3.25"/><circle cx="348.5" cy="441.5" r="3.25"/><circle cx="351.5" cy="440.5" r="3.25"/><circle cx="354.5" cy="439.5" r="3.25"/><circle cx="357.5" cy="438.5" r="3.25"/><circle cx="360.5" cy="437.5" r="3.25"/><circle cx="362.5" cy="436.5" r="3.25"/><circle cx="365.5" cy="435.5" r="3.25"/><circle cx="368.5" cy="434.5" r="3.25"/><circle cx="371.5" cy="433.5" r="3.25"/><circle cx="374.5" cy="433.5" r="3.25"/><circle cx="377.5" cy="432.5" r="3.25"/></g>
<g fill="#c957db"><circle cx="148.5" cy="306.5" r="3.25"/><circle cx="151.5" cy="379.5" r="3.25"/><circle cx="153.5" cy="433.5" r="3.25"/><circle cx="156.5" cy="475.5" r="3.25"/><circle cx="159.5" cy="509.5" r="3.25"/><circle cx="161.5" cy="534.5" r="3.25"/><circle cx="164.5" cy="550.5" r="3.25"/><circle cx="166.5" cy="558.5" r="3.25"/><circle cx="167.5" cy="560.5" r="3.25"/><circle cx="168.5" cy="563.5" r="3.25"/><circle cx="168.5" cy="565.5" r="3.25"/><circle cx="169.5" cy="567.5" r="3.25"/><circle cx="170.5" cy="567.5" r="3.25"/><circle cx="171.5" cy="568.5" r="3.25"/><circle cx="172.5" cy="569.5" r="3.25"/><circle cx="173.5" cy="569.5" r="3.25"/><circle cx="174.5" cy="569.5" r="3.25"/><circle cx="175.5" cy="569.5" r="3.25"/><circle cx="176.5" cy="569.5" r="3.25"/><circle cx="176.5" cy="569.5" r="3.25"/><circle cx="177.5" cy="569.5" r="3.25"/><circle cx="178.5" cy="568.5" r="3.25"/><circle cx="179.5" cy="568.5" r="3.25"/><circle cx="180.5" cy="567.5" r="3.25"/><circle cx="181.5" cy="566.5" r="3.25"/><circle cx="182.5" cy="565.5" r="3.25"/><circle cx="183.5" cy="564.5" r="3.25"/><circle cx="183.5" cy="563.5" r="3.25"/><circle cx="186.5" cy="561.5" r="3.25"/><circle cx="189.5" cy="558.5" r="3.25"/><circle cx="191.5" cy="555.5" r="3.25"/><circle cx="194.5" cy="554.5" r="3.25"/><circle cx="197.5" cy="551.5" r="3.25"/><circle cx="199.5" cy="548.5" r="3.25"/><circle cx="202.5" cy="546.5" r="3.25"/><circle cx="205.5" cy="543.5" r="3.25"/><circle cx="207.5" cy="539.5" r="3.25"/><circle cx="210.5" cy="535.5" r="3.25"/><circle cx="213.5" cy="529.5" r="3.25"/><circle cx="215.5" cy="524.5" r="3.25"/><circle cx="218.5" cy="520.5" r="3.25"/><circle cx="221.5" cy="516.5" r="3.25"/><circle cx="223.5" cy="513.5" r="3.25"/><circle cx="226.5" cy="510.5" r="3.25"/><circle cx="229.5" cy="507.5" r="3.25"/><circle cx="231.5" cy="504.5" r="3.25"/><circle cx="234.5" cy="501.5" r="3.25"/><circle cx="237.5" cy="499.5" r="3.25"/><circle cx="239.5" cy="496.5" r="3.25"/><circle cx="242.5" cy="494.5" r="3.25"/><circle cx="245.5" cy="492.5" r="3.25"/><circle cx="247.5" cy="490.5" r="3.25"/><circle cx="250.5" cy="488.5" r="3.25"/><circle cx="253.5" cy="486.5" r="3.25"/><circle cx="255.5" cy="484.5" r="3.25"/><circle cx="258.5" cy="482.5" r="3.25"/><circle cx="260.5" cy="480.5" r="3.25"/><circle cx="263.5" cy="479.5" r="3.25"/><circle cx="266.5" cy="477.5" r="3.25"/><circle cx="268.5" cy="475.5" r="3.25"/><circle cx="271.5" cy="474.5" r="3.25"/><circle cx="274.5" cy="472.5" r="3.25"/><circle cx="276.5" cy="470.5" r="3.25"/><circle cx="279.5" cy="469.5" r="3.25"/><circle cx="282.5" cy="467.5" r="3.25"/><circle cx="284.5" cy="466.5" r="3.25"/><circle cx="287.5" cy="464.5" r="3.25"/><circle cx="290.5" cy="462.5" r="3.25"/><circle cx="292.5" cy="461.5" r="3.25"/><circle cx="295.5" cy="459.5" r="3.25"/><circle cx="298.5" cy="457.5" r="3.25"/><circle cx="300.5" cy="456.5" r="3.25"/><circle cx="303.5" cy="455.5" r="3.25"/><circle cx="306.5" cy="454.5" r="3.25"/><circle cx="308.5" cy="453.5" r="3.25"/><circle cx="311.5" cy="452.5" r="3.25"/><circle cx="314.5" cy="452.5" r="3.25"/><circle cx="316.5" cy="451.5" r="3.25"/><circle cx="319.5" cy="450.5" r="3.25"/><circle cx="322.5" cy="450.5" r="3.25"/><circle cx="324.5" cy="449.5" r="3.25"/><circle cx="327.5" cy="449.5" r="3.25"/><circle cx="329.5" cy="448.5" r="3.25"/><circle cx="332.5" cy="447.5" r="3.25"/><circle cx="335.5" cy="446.5" r="3.25"/><circle cx="337.5" cy="445.5" r="3.25"/><circle cx="340.5" cy="444.5" r="3.25"/><circle cx="343.5" cy="444.5" r="3.25"/><circle cx="345.5" cy="443.5" r="3.25"/><circle cx="348.5" cy="442.5" r="3.25"/><circle cx="351.5" cy="441.5" r="3.25"/></g>
<g fill="#db579e"><circle cx="152.5" cy="405.5" r="3.25"/><circle cx="155.5" cy="452.5" r="3.25"/><circle cx="158.5" cy="487.5" r="3.25"/><circle cx="161.5" cy="514.5" r="3.25"/><circle cx="164.5" cy="535.5" r="3.25"/><circle cx="166.5" cy="551.5" r="3.25"/><circle cx="169.5" cy="562.5" r="3.25"/><circle cx="171.5" cy="568.5" r="3.25"/><circle cx="172.5" cy="570.5" r="3.25"/><circle cx="173.5" cy="571.5" r="3.25"/><circle cx="174.5" cy="573.5" r="3.25"/><circle cx="175.5" cy="574.5" r="3.25"/><circle cx="176.5" cy="575.5" r="3.25"/><circle cx="177.5" cy="576.5" r="3.25"/><circle cx="178.5" cy="577.5" r="3.25"/><circle cx="179.5" cy="577.5" r="3.25"/><circle cx="180.5" cy="577.5" r="3.25"/><circle cx="181.5" cy="577.5" r="3.25"/><circle cx="182.5" cy="577.5" r="3.25"/><circle cx="182.5" cy="577.5" r="3.25"/><circle cx="183.5" cy="577.5" r="3.25"/><circle cx="184.5" cy="576.5" r="3.25"/><circle cx="185.5" cy="576.5" r="3.25"/><circle cx="186.5" cy="575.5" r="3.25"/><circle cx="187.5" cy="574.5" r="3.25"/><circle cx="188.5" cy="573.5" r="3.25"/><circle cx="189.5" cy="572.5" r="3.25"/><circle cx="190.5" cy="571.5" r="3.25"/><circle cx="193.5" cy="567.5" r="3.25"/><circle cx="196.5" cy="563.5" r="3.25"/><circle cx="199.5" cy="559.5" r="3.25"/><circle cx="201.5" cy="554.5" r="3.25"/><circle cx="204.5" cy="551.5" r="3.25"/><circle cx="207.5" cy="547.5" r="3.25"/><circle cx="210.5" cy="543.5" r="3.25"/><circle cx="213.5" cy="539.5" r="3.25"/><circle cx="215.5" cy="535.5" r="3.25"/><circle cx="218.5" cy="532.5" r="3.25"/><circle cx="221.5" cy="528.5" r="3.25"/><circle cx="224.5" cy="525.5" r="3.25"/><circle cx="227.5" cy="521.5" r="3.25"/><circle cx="230.5" cy="517.5" r="3.25"/><circle cx="232.5" cy="514.5" r="3.25"/><circle cx="235.5" cy="510.5" r="3.25"/><circle cx="238.5" cy="506.5" r="3.25"/><circle cx="241.5" cy="503.5" r="3.25"/><circle cx="244.5" cy="499.5" r="3.25"/><circle cx="247.5" cy="496.5" r="3.25"/><circle cx="249.5" cy="493.5" r="3.25"/><circle cx="252.5" cy="490.5" r="3.25"/><circle cx="255.5" cy="488.5" r="3.25"/><circle cx="258.5" cy="486.5" r="3.25"/><circle cx="261.5" cy="483.5" r="3.25"/><circle cx="264.5" cy="481.5" r="3.25"/><circle cx="266.5" cy="479.5" r="3.25"/><circle cx="269.5" cy="477.5" r="3.25"/><circle cx="272.5" cy="475.5" r="3.25"/><circle cx="275.5" cy="474.5" r="3.25"/><circle cx="278.5" cy="472.5" r="3.25"/><circle cx="281.5" cy="471.5" r="3.25"/><circle cx="283.5" cy="469.5" r="3.25"/><circle cx="286.5" cy="467.5" r="3.25"/><circle cx="289.5" cy="465.5" r="3.25"/><circle cx="292.5" cy="463.5" r="3.25"/><circle cx="295.5" cy="462.5" r="3.25"/><circle cx="298.5" cy="460.5" r="3.25"/><circle cx="300.5" cy="459.5" r="3.25"/><circle cx="303.5" cy="458.5" r="3.25"/><circle cx="306.5" cy="457.5" r="3.25"/><circle cx="309.5" cy="456.5" r="3.25"/><circle cx="312.5" cy="455.5" r="3.25"/><circle cx="315.5" cy="454.5" r="3.25"/><circle cx="317.5" cy="453.5" r="3.25"/><circle cx="320.5" cy="452.5" r="3.25"/><circle cx="323.5" cy="451.5" r="3.25"/><circle cx="326.5" cy="450.5" r="3.25"/><circle cx="329.5" cy="449.5" r="3.25"/><circle cx="332.5" cy="448.5" r="3.25"/><circle cx="334.5" cy="447.5" r="3.25"/><circle cx="337.5" cy="446.5" r="3.25"/><circle cx="340.5" cy="445.5" r="3.25"/><circle cx="343.5" cy="444.5" r="3.25"/><circle cx="346.5" cy="443.5" r="3.25"/><circle cx="349.5" cy="442.5" r="3.25"/><circle cx="351.5" cy="441.5" r="3.25"/><circle cx="354.5" cy="440.5" r="3.25"/><circle cx="357.5" cy="439.5" r="3.25"/><circle cx="360.5" cy="438.5" r="3.25"/><circle cx="363.5" cy="437.5" r="3.25"/><circle cx="366.5" cy="435.5" r="3.25"/><circle cx="368.5" cy="434.5" r="3.25"/></g>
</g>
<g id="legend"><rect x="442" y="95" width="155" height="292.6" rx="3.8" ry="3.8" fill="#fff" fill-opacity="0.8" stroke="#ccc" stroke-opacity="0.8" stroke-width="2.22"/>
<g class="pt">
<circle cx="469.5" cy="113.5" r="3.25" fill="#db5f57"/>
<circle cx="469.5" cy="142.5" r="3.25" fill="#dbae57"/>
<circle cx="469.5" cy="170.5" r="3.25" fill="#b9db57"/>
<circle cx="469.5" cy="199.5" r="3.25" fill="#69db57"/>
<circle cx="469.5" cy="228.5" r="3.25" fill="#57db94"/>
<circle cx="469.5" cy="257.5" r="3.25" fill="#57d3db"/>
<circle cx="469.5" cy="285.5" r="3.25" fill="#5784db"/>
<circle cx="469.5" cy="314.5" r="3.25" fill="#7957db"/>
<circle cx="469.5" cy="343.5" r="3.25" fill="#c957db"/>
<circle cx="469.5" cy="371.5" r="3.25" fill="#db579e"/>
</g>
<text class="lg" x="503.7" y="118.8">Sn(tI2)</text>
<text class="lg" x="503.7" y="147.47">Sn</text>
<text class="lg" x="503.7" y="176.14">Bi</text>
<text class="lg" x="503.7" y="204.81">Sm</text>
<text class="lg" x="503.7" y="233.48">La</text>
<text class="lg" x="503.7" y="262.15">diamond</text>
<text class="lg" x="503.7" y="290.82">sc</text>
<text class="lg" x="503.7" y="319.49">fcc</text>
<text class="lg" x="503.7" y="348.16">bcc</text>
<text class="lg" x="503.7" y="376.83">hcp</text>
</g>
<rect class="sp" x="145.5" y="86.5" width="462.0" height="591.0"/>
<text class="tk" x="236" y="718.0" text-anchor="middle">50</text>
<text class="tk" x="385" y="718.0" text-anchor="middle">100</text>
<text class="tk" x="534" y="718.0" text-anchor="middle">150</text>
<text class="tk" x="120.4" y="109.3" text-anchor="end">0.3</text>
<text class="tk" x="120.4" y="208.3" text-anchor="end">0.2</text>
<text class="tk" x="120.4" y="308.3" text-anchor="end">0.1</text>
<text class="tk" x="120.4" y="407.3" text-anchor="end">0.0</text>
<text class="tk" x="120.4" y="507.3" text-anchor="end">−0.1</text>
<text class="tk" x="120.4" y="607.3" text-anchor="end">−0.2</text>
<text class="lb" y="762.8"><tspan x="252">Volume (</tspan><tspan class="m" x="376.9" font-size="28.8px">Å</tspan><tspan class="m" x="398.4" dy="-10.9" font-size="20.6px">3</tspan><tspan x="408.9" dy="10.9">/atom)</tspan></text>
</g>
<g id="ax2">
<g class="g" clip-path="url(#c1)">
<path d="M806 677.0 V86.5"/>
<path d="M921 677.0 V86.5"/>
<path d="M1037 677.0 V86.5"/>
<path d="M1152 677.0 V86.5"/>
<path d="M726.95 98 H1189.5"/>
<path d="M726.95 216 H1189.5"/>
<path d="M726.95 334 H1189.5"/>
<path d="M726.95 453 H1189.5"/>
<path d="M726.95 571 H1189.5"/>
</g>
<g class="pt" clip-path="url(#c1)">
<g fill="#db5f57"><circle cx="728.5" cy="430.5" r="4.17"/><circle cx="748.5" cy="494.5" r="4.17"/><circle cx="769.5" cy="544.5" r="4.17"/><circle cx="789.5" cy="584.5" r="4.17"/><circle cx="810.5" cy="613.5" r="4.17"/><circle cx="830.5" cy="633.5" r="4.17"/><circle cx="844.5" cy="642.5" r="4.17"/><circle cx="851.5" cy="645.5" r="4.17"/><circle cx="858.5" cy="648.5" r="4.17"/><circle cx="864.5" cy="650.5" r="4.17"/><circle cx="871.5" cy="652.5" r="4.17"/><circle cx="878.5" cy="653.5" r="4.17"/><circle cx="885.5" cy="654.5" r="4.17"/><circle cx="892.5" cy="655.5" r="4.17"/><circle cx="899.5" cy="655.5" r="4.17"/><circle cx="905.5" cy="655.5" r="4.17"/><circle cx="912.5" cy="656.5" r="4.17"/><circle cx="919.5" cy="655.5" r="4.17"/><circle cx="926.5" cy="655.5" r="4.17"/><circle cx="933.5" cy="655.5" r="4.17"/><circle cx="940.5" cy="654.5" r="4.17"/><circle cx="947.5" cy="653.5" r="4.17"/><circle cx="953.5" cy="653.5" r="4.17"/><circle cx="960.5" cy="652.5" r="4.17"/><circle cx="967.5" cy="651.5" r="4.17"/><circle cx="974.5" cy="650.5" r="4.17"/><circle cx="981.5" cy="648.5" r="4.17"/><circle cx="1001.5" cy="645.5" r="4.17"/><circle cx="1022.5" cy="642.5" r="4.17"/><circle cx="1042.5" cy="638.5" r="4.17"/><circle cx="1063.5" cy="637.5" r="4.17"/><circle cx="1083.5" cy="634.5" r="4.17"/><circle cx="1104.5" cy="630.5" r="4.17"/><circle cx="1124.5" cy="628.5" r="4.17"/><circle cx="1145.5" cy="624.5" r="4.17"/><circle cx="1165.5" cy="620.5" r="4.17"/><circle cx="1186.5" cy="615.5" r="4.17"/></g>
<g fill="#dbae57"><circle cx="727.5" cy="333.5" r="4.17"/><circle cx="748.5" cy="436.5" r="4.17"/><circle cx="768.5" cy="511.5" r="4.17"/><circle cx="789.5" cy="561.5" r="4.17"/><circle cx="809.5" cy="593.5" r="4.17"/><circle cx="830.5" cy="614.5" r="4.17"/><circle cx="844.5" cy="623.5" r="4.17"/><circle cx="850.5" cy="628.5" r="4.17"/><circle cx="857.5" cy="631.5" r="4.17"/><circle cx="864.5" cy="634.5" r="4.17"/><circle cx="871.5" cy="637.5" r="4.17"/><circle cx="878.5" cy="639.5" r="4.17"/><circle cx="885.5" cy="640.5" r="4.17"/><circle cx="891.5" cy="641.5" r="4.17"/><circle cx="898.5" cy="642.5" r="4.17"/><circle cx="905.5" cy="643.5" r="4.17"/><circle cx="912.5" cy="643.5" r="4.17"/><circle cx="919.5" cy="643.5" r="4.17"/><circle cx="926.5" cy="642.5" r="4.17"/><circle cx="932.5" cy="642.5" r="4.17"/><circle cx="939.5" cy="641.5" r="4.17"/><circle cx="946.5" cy="640.5" r="4.17"/><circle cx="953.5" cy="638.5" r="4.17"/><circle cx="960.5" cy="637.5" r="4.17"/><circle cx="967.5" cy="635.5" r="4.17"/><circle cx="973.5" cy="634.5" r="4.17"/><circle cx="980.5" cy="632.5" r="4.17"/><circle cx="1001.5" cy="628.5" r="4.17"/><circle cx="1021.5" cy="623.5" r="4.17"/><circle cx="1042.5" cy="619.5" r="4.17"/><circle cx="1062.5" cy="616.5" r="4.17"/><circle cx="1083.5" cy="615.5" r="4.17"/><circle cx="1103.5" cy="612.5" r="4.17"/><circle cx="1124.5" cy="610.5" r="4.17"/><circle cx="1144.5" cy="609.5" r="4.17"/><circle cx="1165.5" cy="607.5" r="4.17"/><circle cx="1185.5" cy="604.5" r="4.17"/></g>
<g fill="#b9db57"><circle cx="728.5" cy="353.5" r="4.17"/><circle cx="749.5" cy="449.5" r="4.17"/><circle cx="769.5" cy="518.5" r="4.17"/><circle cx="790.5" cy="565.5" r="4.17"/><circle cx="810.5" cy="596.5" r="4.17"/><circle cx="831.5" cy="616.5" r="4.17"/><circle cx="844.5" cy="625.5" r="4.17"/><circle cx="851.5" cy="629.5" r="4.17"/><circle cx="858.5" cy="633.5" r="4.17"/><circle cx="865.5" cy="636.5" r="4.17"/><circle cx="872.5" cy="638.5" r="4.17"/><circle cx="879.5" cy="640.5" r="4.17"/><circle cx="885.5" cy="642.5" r="4.17"/><circle cx="892.5" cy="643.5" r="4.17"/><circle cx="899.5" cy="643.5" r="4.17"/><circle cx="906.5" cy="644.5" r="4.17"/><circle cx="913.5" cy="644.5" r="4.17"/><circle cx="920.5" cy="644.5" r="4.17"/><circle cx="926.5" cy="643.5" r="4.17"/><circle cx="933.5" cy="643.5" r="4.17"/><circle cx="940.5" cy="642.5" r="4.17"/><circle cx="947.5" cy="641.5" r="4.17"/><circle cx="954.5" cy="640.5" r="4.17"/><circle cx="961.5" cy="638.5" r="4.17"/><circle cx="968.5" cy="637.5" r="4.17"/><circle cx="974.5" cy="636.5" r="4.17"/><circle cx="981.5" cy="634.5" r="4.17"/><circle cx="1002.5" cy="630.5" r="4.17"/><circle cx="1022.5" cy="625.5" r="4.17"/><circle cx="1043.5" cy="621.5" r="4.17"/><circle cx="1063.5" cy="619.5" r="4.17"/><circle cx="1084.5" cy="616.5" r="4.17"/><circle cx="1104.5" cy="613.5" r="4.17"/><circle cx="1125.5" cy="611.5" r="4.17"/><circle cx="1145.5" cy="608.5" r="4.17"/><circle cx="1166.5" cy="604.5" r="4.17"/><circle cx="1186.5" cy="601.5" r="4.17"/></g>
<g fill="#69db57"><circle cx="737.5" cy="453.5" r="4.17"/><circle cx="758.5" cy="510.5" r="4.17"/><circle cx="780.5" cy="552.5" r="4.17"/><circle cx="802.5" cy="585.5" r="4.17"/><circle cx="824.5" cy="609.5" r="4.17"/><circle cx="845.5" cy="628.5" r="4.17"/><circle cx="867.5" cy="642.5" r="4.17"/><circle cx="882.5" cy="649.5" r="4.17"/><circle cx="889.5" cy="652.5" r="4.17"/><circle cx="896.5" cy="655.5" r="4.17"/><circle cx="903.5" cy="657.5" r="4.17"/><circle cx="911.5" cy="658.5" r="4.17"/><circle cx="918.5" cy="659.5" r="4.17"/><circle cx="925.5" cy="660.5" r="4.17"/><circle cx="932.5" cy="661.5" r="4.17"/><circle cx="940.5" cy="662.5" r="4.17"/><circle cx="947.5" cy="662.5" r="4.17"/><circle cx="954.5" cy="662.5" r="4.17"/><circle cx="962.5" cy="662.5" r="4.17"/><circle cx="969.5" cy="662.5" r="4.17"/><circle cx="976.5" cy="661.5" r="4.17"/><circle cx="983.5" cy="661.5" r="4.17"/><circle cx="991.5" cy="660.5" r="4.17"/><circle cx="998.5" cy="659.5" r="4.17"/><circle cx="1005.5" cy="658.5" r="4.17"/><circle cx="1012.5" cy="657.5" r="4.17"/><circle cx="1020.5" cy="656.5" r="4.17"/><circle cx="1027.5" cy="655.5" r="4.17"/><circle cx="1049.5" cy="651.5" r="4.17"/><circle cx="1070.5" cy="646.5" r="4.17"/><circle cx="1092.5" cy="642.5" r="4.17"/><circle cx="1114.5" cy="636.5" r="4.17"/><circle cx="1136.5" cy="631.5" r="4.17"/><circle cx="1157.5" cy="625.5" r="4.17"/><circle cx="1179.5" cy="620.5" r="4.17"/></g>
<g fill="#57db94"><circle cx="736.5" cy="458.5" r="4.17"/><circle cx="758.5" cy="514.5" r="4.17"/><circle cx="780.5" cy="559.5" r="4.17"/><circle cx="802.5" cy="589.5" r="4.17"/><circle cx="823.5" cy="611.5" r="4.17"/><circle cx="845.5" cy="629.5" r="4.17"/><circle cx="867.5" cy="642.5" r="4.17"/><circle cx="881.5" cy="648.5" r="4.17"/><circle cx="889.5" cy="651.5" r="4.17"/><circle cx="896.5" cy="653.5" r="4.17"/><circle cx="903.5" cy="655.5" r="4.17"/><circle cx="910.5" cy="656.5" r="4.17"/><circle cx="918.5" cy="658.5" r="4.17"/><circle cx="925.5" cy="659.5" r="4.17"/><circle cx="932.5" cy="660.5" r="4.17"/><circle cx="939.5" cy="660.5" r="4.17"/><circle cx="947.5" cy="660.5" r="4.17"/><circle cx="954.5" cy="660.5" r="4.17"/><circle cx="961.5" cy="660.5" r="4.17"/><circle cx="968.5" cy="660.5" r="4.17"/><circle cx="976.5" cy="660.5" r="4.17"/><circle cx="983.5" cy="659.5" r="4.17"/><circle cx="990.5" cy="659.5" r="4.17"/><circle cx="997.5" cy="658.5" r="4.17"/><circle cx="1005.5" cy="657.5" r="4.17"/><circle cx="1012.5" cy="656.5" r="4.17"/><circle cx="1019.5" cy="655.5" r="4.17"/><circle cx="1026.5" cy="654.5" r="4.17"/><circle cx="1048.5" cy="649.5" r="4.17"/><circle cx="1070.5" cy="645.5" r="4.17"/><circle cx="1092.5" cy="640.5" r="4.17"/><circle cx="1113.5" cy="635.5" r="4.17"/><circle cx="1135.5" cy="630.5" r="4.17"/><circle cx="1157.5" cy="624.5" r="4.17"/><circle cx="1179.5" cy="619.5" r="4.17"/></g>
<g fill="#57d3db"><circle cx="1165.5" cy="523.5" r="4.17"/></g>
<g fill="#5784db"><circle cx="742.5" cy="333.5" r="4.17"/><circle cx="764.5" cy="424.5" r="4.17"/><circle cx="785.5" cy="488.5" r="4.17"/><circle cx="806.5" cy="536.5" r="4.17"/><circle cx="827.5" cy="573.5" r="4.17"/><circle cx="848.5" cy="600.5" r="4.17"/><circle cx="862.5" cy="614.5" r="4.17"/><circle cx="869.5" cy="619.5" r="4.17"/><circle cx="876.5" cy="623.5" r="4.17"/><circle cx="883.5" cy="627.5" r="4.17"/><circle cx="890.5" cy="629.5" r="4.17"/><circle cx="897.5" cy="632.5" r="4.17"/><circle cx="904.5" cy="634.5" r="4.17"/><circle cx="911.5" cy="635.5" r="4.17"/><circle cx="918.5" cy="636.5" r="4.17"/><circle cx="925.5" cy="636.5" r="4.17"/><circle cx="933.5" cy="636.5" r="4.17"/><circle cx="940.5" cy="636.5" r="4.17"/><circle cx="947.5" cy="636.5" r="4.17"/><circle cx="954.5" cy="635.5" r="4.17"/><circle cx="961.5" cy="634.5" r="4.17"/><circle cx="968.5" cy="633.5" r="4.17"/><circle cx="975.5" cy="632.5" r="4.17"/><circle cx="982.5" cy="631.5" r="4.17"/><circle cx="989.5" cy="630.5" r="4.17"/><circle cx="996.5" cy="628.5" r="4.17"/><circle cx="1003.5" cy="627.5" r="4.17"/><circle cx="1024.5" cy="622.5" r="4.17"/><circle cx="1045.5" cy="617.5" r="4.17"/><circle cx="1066.5" cy="612.5" r="4.17"/><circle cx="1087.5" cy="607.5" r="4.17"/><circle cx="1109.5" cy="603.5" r="4.17"/><circle cx="1130.5" cy="598.5" r="4.17"/><circle cx="1151.5" cy="594.5" r="4.17"/><circle cx="1172.5" cy="590.5" r="4.17"/><circle cx="1193.5" cy="586.5" r="4.17"/></g>
<g fill="#7957db"><circle cx="755.5" cy="519.5" r="4.17"/><circle cx="777.5" cy="555.5" r="4.17"/><circle cx="800.5" cy="584.5" r="4.17"/><circle cx="823.5" cy="607.5" r="4.17"/><circle cx="845.5" cy="622.5" r="4.17"/><circle cx="868.5" cy="632.5" r="4.17"/><circle cx="890.5" cy="638.5" r="4.17"/><circle cx="905.5" cy="641.5" r="4.17"/><circle cx="913.5" cy="643.5" r="4.17"/><circle cx="920.5" cy="644.5" r="4.17"/><circle cx="928.5" cy="645.5" r="4.17"/><circle cx="935.5" cy="646.5" r="4.17"/><circle cx="943.5" cy="647.5" r="4.17"/><circle cx="950.5" cy="647.5" r="4.17"/><circle cx="958.5" cy="648.5" r="4.17"/><circle cx="965.5" cy="648.5" r="4.17"/><circle cx="973.5" cy="648.5" r="4.17"/><circle cx="980.5" cy="648.5" r="4.17"/><circle cx="988.5" cy="648.5" r="4.17"/><circle cx="996.5" cy="648.5" r="4.17"/><circle cx="1003.5" cy="648.5" r="4.17"/><circle cx="1011.5" cy="647.5" r="4.17"/><circle cx="1018.5" cy="647.5" r="4.17"/><circle cx="1026.5" cy="646.5" r="4.17"/><circle cx="1033.5" cy="645.5" r="4.17"/><circle cx="1041.5" cy="644.5" r="4.17"/><circle cx="1048.5" cy="643.5" r="4.17"/><circle cx="1056.5" cy="642.5" r="4.17"/><circle cx="1078.5" cy="638.5" r="4.17"/><circle cx="1101.5" cy="634.5" r="4.17"/><circle cx="1123.5" cy="629.5" r="4.17"/><circle cx="1146.5" cy="622.5" r="4.17"/><circle cx="1168.5" cy="617.5" r="4.17"/><circle cx="1191.5" cy="611.5" r="4.17"/></g>
<g fill="#c957db"><circle cx="728.5" cy="430.5" r="4.17"/><circle cx="748.5" cy="494.5" r="4.17"/><circle cx="769.5" cy="544.5" r="4.17"/><circle cx="789.5" cy="584.5" r="4.17"/><circle cx="810.5" cy="613.5" r="4.17"/><circle cx="830.5" cy="633.5" r="4.17"/><circle cx="844.5" cy="642.5" r="4.17"/><circle cx="851.5" cy="645.5" r="4.17"/><circle cx="858.5" cy="648.5" r="4.17"/><circle cx="864.5" cy="650.5" r="4.17"/><circle cx="871.5" cy="652.5" r="4.17"/><circle cx="878.5" cy="653.5" r="4.17"/><circle cx="885.5" cy="654.5" r="4.17"/><circle cx="892.5" cy="655.5" r="4.17"/><circle cx="899.5" cy="655.5" r="4.17"/><circle cx="905.5" cy="655.5" r="4.17"/><circle cx="912.5" cy="656.5" r="4.17"/><circle cx="919.5" cy="655.5" r="4.17"/><circle cx="926.5" cy="655.5" r="4.17"/><circle cx="933.5" cy="655.5" r="4.17"/><circle cx="940.5" cy="654.5" r="4.17"/><circle cx="947.5" cy="653.5" r="4.17"/><circle cx="953.5" cy="653.5" r="4.17"/><circle cx="960.5" cy="652.5" r="4.17"/><circle cx="967.5" cy="651.5" r="4.17"/><circle cx="974.5" cy="650.5" r="4.17"/><circle cx="981.5" cy="648.5" r="4.17"/><circle cx="1001.5" cy="645.5" r="4.17"/><circle cx="1022.5" cy="642.5" r="4.17"/><circle cx="1042.5" cy="638.5" r="4.17"/><circle cx="1063.5" cy="637.5" r="4.17"/><circle cx="1083.5" cy="634.5" r="4.17"/><circle cx="1104.5" cy="630.5" r="4.17"/><circle cx="1124.5" cy="628.5" r="4.17"/><circle cx="1145.5" cy="624.5" r="4.17"/><circle cx="1165.5" cy="620.5" r="4.17"/><circle cx="1186.5" cy="615.5" r="4.17"/></g>
<g fill="#db579e"><circle cx="739.5" cy="461.5" r="4.17"/><circle cx="761.5" cy="517.5" r="4.17"/><circle cx="783.5" cy="558.5" r="4.17"/><circle cx="805.5" cy="590.5" r="4.17"/><circle cx="827.5" cy="615.5" r="4.17"/><circle cx="849.5" cy="634.5" r="4.17"/><circle cx="871.5" cy="647.5" r="4.17"/><circle cx="885.5" cy="654.5" r="4.17"/><circle cx="892.5" cy="656.5" r="4.17"/><circle cx="900.5" cy="658.5" r="4.17"/><circle cx="907.5" cy="660.5" r="4.17"/><circle cx="914.5" cy="661.5" r="4.17"/><circle cx="922.5" cy="662.5" r="4.17"/><circle cx="929.5" cy="663.5" r="4.17"/><circle cx="936.5" cy="664.5" r="4.17"/><circle cx="944.5" cy="665.5" r="4.17"/><circle cx="951.5" cy="665.5" r="4.17"/><circle cx="958.5" cy="665.5" r="4.17"/><circle cx="965.5" cy="665.5" r="4.17"/><circle cx="973.5" cy="665.5" r="4.17"/><circle cx="980.5" cy="664.5" r="4.17"/><circle cx="987.5" cy="664.5" r="4.17"/><circle cx="995.5" cy="663.5" r="4.17"/><circle cx="1002.5" cy="662.5" r="4.17"/><circle cx="1009.5" cy="661.5" r="4.17"/><circle cx="1016.5" cy="660.5" r="4.17"/><circle cx="1024.5" cy="658.5" r="4.17"/><circle cx="1031.5" cy="657.5" r="4.17"/><circle cx="1053.5" cy="653.5" r="4.17"/><circle cx="1075.5" cy="648.5" r="4.17"/><circle cx="1097.5" cy="643.5" r="4.17"/><circle cx="1119.5" cy="638.5" r="4.17"/><circle cx="1141.5" cy="634.5" r="4.17"/><circle cx="1162.5" cy="629.5" r="4.17"/><circle cx="1184.5" cy="624.5" r="4.17"/></g>
</g>
<rect class="sp" x="727.5" y="86.5" width="462.0" height="591.0"/>
<text class="tk" x="806" y="718.0" text-anchor="middle">25</text>
<text class="tk" x="921" y="718.0" text-anchor="middle">30</text>
<text class="tk" x="1037" y="718.0" text-anchor="middle">35</text>
<text class="tk" x="1152" y="718.0" text-anchor="middle">40</text>
<text class="tk" x="702.4" y="107.3" text-anchor="end">0.3</text>
<text class="tk" x="702.4" y="225.3" text-anchor="end">0.2</text>
<text class="tk" x="702.4" y="343.3" text-anchor="end">0.1</text>
<text class="tk" x="702.4" y="462.3" text-anchor="end">0.0</text>
<text class="tk" x="702.4" y="580.3" text-anchor="end">−0.1</text>
<text class="lb" y="762.8"><tspan x="834">Volume (</tspan><tspan class="m" x="958.9" font-size="28.8px">Å</tspan><tspan class="m" x="980.4" dy="-10.9" font-size="20.6px">3</tspan><tspan x="990.9" dy="10.9">/atom)</tspan></text>
</g>
<g id="ax3">
<g class="g" clip-path="url(#c2)">
<path d="M1341 677.0 V86.5"/>
<path d="M1418 677.0 V86.5"/>
<path d="M1495 677.0 V86.5"/>
<path d="M1572 677.0 V86.5"/>
<path d="M1649 677.0 V86.5"/>
<path d="M1726 677.0 V86.5"/>
<path d="M1308.95 147 H1771.5"/>
<path d="M1308.95 265 H1771.5"/>
<path d="M1308.95 383 H1771.5"/>
<path d="M1308.95 501 H1771.5"/>
<path d="M1308.95 620 H1771.5"/>
</g>
<g class="pt" clip-path="url(#c2)">
<g fill="#db5f57"><circle cx="1319.5" cy="566.5" r="4.17"/><circle cx="1342.5" cy="569.5" r="4.17"/><circle cx="1365.5" cy="570.5" r="4.17"/><circle cx="1388.5" cy="571.5" r="4.17"/><circle cx="1410.5" cy="570.5" r="4.17"/><circle cx="1433.5" cy="569.5" r="4.17"/><circle cx="1456.5" cy="567.5" r="4.17"/><circle cx="1479.5" cy="564.5" r="4.17"/><circle cx="1502.5" cy="560.5" r="4.17"/><circle cx="1524.5" cy="556.5" r="4.17"/><circle cx="1547.5" cy="551.5" r="4.17"/><circle cx="1570.5" cy="546.5" r="4.17"/><circle cx="1593.5" cy="541.5" r="4.17"/><circle cx="1616.5" cy="535.5" r="4.17"/><circle cx="1684.5" cy="518.5" r="4.17"/><circle cx="1752.5" cy="502.5" r="4.17"/></g>
<g fill="#dbae57"><circle cx="1318.5" cy="500.5" r="4.17"/><circle cx="1340.5" cy="504.5" r="4.17"/><circle cx="1363.5" cy="506.5" r="4.17"/><circle cx="1386.5" cy="507.5" r="4.17"/><circle cx="1409.5" cy="505.5" r="4.17"/><circle cx="1432.5" cy="504.5" r="4.17"/><circle cx="1454.5" cy="501.5" r="4.17"/><circle cx="1477.5" cy="496.5" r="4.17"/><circle cx="1500.5" cy="491.5" r="4.17"/><circle cx="1523.5" cy="485.5" r="4.17"/><circle cx="1546.5" cy="478.5" r="4.17"/><circle cx="1568.5" cy="470.5" r="4.17"/><circle cx="1591.5" cy="463.5" r="4.17"/><circle cx="1614.5" cy="455.5" r="4.17"/><circle cx="1682.5" cy="431.5" r="4.17"/><circle cx="1751.5" cy="409.5" r="4.17"/></g>
<g fill="#b9db57"><circle cx="1321.5" cy="506.5" r="4.17"/><circle cx="1343.5" cy="510.5" r="4.17"/><circle cx="1366.5" cy="512.5" r="4.17"/><circle cx="1389.5" cy="513.5" r="4.17"/><circle cx="1412.5" cy="512.5" r="4.17"/><circle cx="1435.5" cy="510.5" r="4.17"/><circle cx="1457.5" cy="507.5" r="4.17"/><circle cx="1480.5" cy="503.5" r="4.17"/><circle cx="1503.5" cy="498.5" r="4.17"/><circle cx="1526.5" cy="492.5" r="4.17"/><circle cx="1549.5" cy="485.5" r="4.17"/><circle cx="1572.5" cy="478.5" r="4.17"/><circle cx="1594.5" cy="471.5" r="4.17"/><circle cx="1617.5" cy="464.5" r="4.17"/><circle cx="1686.5" cy="441.5" r="4.17"/><circle cx="1754.5" cy="420.5" r="4.17"/></g>
<g fill="#69db57"><circle cx="1310.5" cy="554.5" r="4.17"/><circle cx="1334.5" cy="566.5" r="4.17"/><circle cx="1358.5" cy="576.5" r="4.17"/><circle cx="1382.5" cy="584.5" r="4.17"/><circle cx="1406.5" cy="590.5" r="4.17"/><circle cx="1431.5" cy="595.5" r="4.17"/><circle cx="1455.5" cy="599.5" r="4.17"/><circle cx="1479.5" cy="601.5" r="4.17"/><circle cx="1503.5" cy="603.5" r="4.17"/><circle cx="1527.5" cy="603.5" r="4.17"/><circle cx="1552.5" cy="603.5" r="4.17"/><circle cx="1576.5" cy="601.5" r="4.17"/><circle cx="1600.5" cy="599.5" r="4.17"/><circle cx="1624.5" cy="597.5" r="4.17"/><circle cx="1648.5" cy="593.5" r="4.17"/><circle cx="1673.5" cy="589.5" r="4.17"/><circle cx="1697.5" cy="584.5" r="4.17"/><circle cx="1721.5" cy="579.5" r="4.17"/><circle cx="1745.5" cy="573.5" r="4.17"/><circle cx="1769.5" cy="568.5" r="4.17"/></g>
<g fill="#57db94"><circle cx="1308.5" cy="546.5" r="4.17"/><circle cx="1333.5" cy="557.5" r="4.17"/><circle cx="1357.5" cy="567.5" r="4.17"/><circle cx="1381.5" cy="575.5" r="4.17"/><circle cx="1405.5" cy="582.5" r="4.17"/><circle cx="1429.5" cy="587.5" r="4.17"/><circle cx="1454.5" cy="591.5" r="4.17"/><circle cx="1478.5" cy="593.5" r="4.17"/><circle cx="1502.5" cy="595.5" r="4.17"/><circle cx="1526.5" cy="595.5" r="4.17"/><circle cx="1550.5" cy="595.5" r="4.17"/><circle cx="1574.5" cy="593.5" r="4.17"/><circle cx="1599.5" cy="591.5" r="4.17"/><circle cx="1623.5" cy="589.5" r="4.17"/><circle cx="1647.5" cy="586.5" r="4.17"/><circle cx="1671.5" cy="582.5" r="4.17"/><circle cx="1695.5" cy="578.5" r="4.17"/><circle cx="1720.5" cy="573.5" r="4.17"/><circle cx="1744.5" cy="568.5" r="4.17"/><circle cx="1768.5" cy="562.5" r="4.17"/></g>
<g fill="#57d3db"></g>
<g fill="#5784db"><circle cx="1314.5" cy="440.5" r="4.17"/><circle cx="1338.5" cy="452.5" r="4.17"/><circle cx="1361.5" cy="461.5" r="4.17"/><circle cx="1385.5" cy="467.5" r="4.17"/><circle cx="1408.5" cy="471.5" r="4.17"/><circle cx="1431.5" cy="473.5" r="4.17"/><circle cx="1455.5" cy="474.5" r="4.17"/><circle cx="1478.5" cy="473.5" r="4.17"/><circle cx="1502.5" cy="472.5" r="4.17"/><circle cx="1525.5" cy="469.5" r="4.17"/><circle cx="1549.5" cy="465.5" r="4.17"/><circle cx="1572.5" cy="460.5" r="4.17"/><circle cx="1596.5" cy="455.5" r="4.17"/><circle cx="1619.5" cy="449.5" r="4.17"/><circle cx="1643.5" cy="442.5" r="4.17"/><circle cx="1666.5" cy="435.5" r="4.17"/><circle cx="1690.5" cy="428.5" r="4.17"/><circle cx="1760.5" cy="404.5" r="4.17"/></g>
<g fill="#7957db"><circle cx="1314.5" cy="485.5" r="4.17"/><circle cx="1364.5" cy="500.5" r="4.17"/><circle cx="1389.5" cy="506.5" r="4.17"/><circle cx="1414.5" cy="512.5" r="4.17"/><circle cx="1439.5" cy="517.5" r="4.17"/><circle cx="1464.5" cy="522.5" r="4.17"/><circle cx="1489.5" cy="525.5" r="4.17"/><circle cx="1514.5" cy="529.5" r="4.17"/><circle cx="1540.5" cy="531.5" r="4.17"/><circle cx="1565.5" cy="533.5" r="4.17"/><circle cx="1590.5" cy="534.5" r="4.17"/><circle cx="1615.5" cy="535.5" r="4.17"/><circle cx="1640.5" cy="535.5" r="4.17"/><circle cx="1665.5" cy="533.5" r="4.17"/><circle cx="1690.5" cy="532.5" r="4.17"/><circle cx="1715.5" cy="529.5" r="4.17"/><circle cx="1740.5" cy="526.5" r="4.17"/><circle cx="1765.5" cy="522.5" r="4.17"/></g>
<g fill="#c957db"><circle cx="1319.5" cy="566.5" r="4.17"/><circle cx="1342.5" cy="569.5" r="4.17"/><circle cx="1365.5" cy="570.5" r="4.17"/><circle cx="1388.5" cy="571.5" r="4.17"/><circle cx="1410.5" cy="570.5" r="4.17"/><circle cx="1433.5" cy="569.5" r="4.17"/><circle cx="1456.5" cy="567.5" r="4.17"/><circle cx="1479.5" cy="564.5" r="4.17"/><circle cx="1502.5" cy="560.5" r="4.17"/><circle cx="1524.5" cy="556.5" r="4.17"/><circle cx="1547.5" cy="551.5" r="4.17"/><circle cx="1570.5" cy="546.5" r="4.17"/><circle cx="1593.5" cy="541.5" r="4.17"/><circle cx="1616.5" cy="535.5" r="4.17"/><circle cx="1684.5" cy="518.5" r="4.17"/><circle cx="1752.5" cy="502.5" r="4.17"/></g>
<g fill="#db579e"><circle cx="1321.5" cy="572.5" r="4.17"/><circle cx="1346.5" cy="583.5" r="4.17"/><circle cx="1370.5" cy="592.5" r="4.17"/><circle cx="1394.5" cy="599.5" r="4.17"/><circle cx="1419.5" cy="605.5" r="4.17"/><circle cx="1443.5" cy="610.5" r="4.17"/><circle cx="1467.5" cy="613.5" r="4.17"/><circle cx="1492.5" cy="616.5" r="4.17"/><circle cx="1516.5" cy="617.5" r="4.17"/><circle cx="1540.5" cy="618.5" r="4.17"/><circle cx="1565.5" cy="617.5" r="4.17"/><circle cx="1589.5" cy="616.5" r="4.17"/><circle cx="1613.5" cy="614.5" r="4.17"/><circle cx="1637.5" cy="611.5" r="4.17"/><circle cx="1662.5" cy="607.5" r="4.17"/><circle cx="1686.5" cy="602.5" r="4.17"/><circle cx="1710.5" cy="597.5" r="4.17"/><circle cx="1735.5" cy="592.5" r="4.17"/><circle cx="1759.5" cy="585.5" r="4.17"/></g>
</g>
<rect class="sp" x="1309.5" y="86.5" width="462.0" height="591.0"/>
<text class="tk" x="1341" y="718.0" text-anchor="middle">29</text>
<text class="tk" x="1418" y="718.0" text-anchor="middle">30</text>
<text class="tk" x="1495" y="718.0" text-anchor="middle">31</text>
<text class="tk" x="1572" y="718.0" text-anchor="middle">32</text>
<text class="tk" x="1649" y="718.0" text-anchor="middle">33</text>
<text class="tk" x="1726" y="718.0" text-anchor="middle">34</text>
<text class="tk" x="1284.4" y="156.3" text-anchor="end">−0.10</text>
<text class="tk" x="1284.4" y="274.3" text-anchor="end">−0.12</text>
<text class="tk" x="1284.4" y="392.3" text-anchor="end">−0.14</text>
<text class="tk" x="1284.4" y="510.3" text-anchor="end">−0.16</text>
<text class="tk" x="1284.4" y="629.3" text-anchor="end">−0.18</text>
<text class="lb" y="762.8"><tspan x="1416">Volume (</tspan><tspan class="m" x="1540.9" font-size="28.8px">Å</tspan><tspan class="m" x="1562.4" dy="-10.9" font-size="20.6px">3</tspan><tspan x="1572.9" dy="10.9">/atom)</tspan></text>
</g>
<text class="lb" transform="translate(50.0 382) rotate(-90)" text-anchor="middle">Energy (eV/atom)</text>
<text class="lb" x="899.7" y="37.6" text-anchor="middle">Equation of state (Hg, gtinv-222)</text>
</svg></body></html>
